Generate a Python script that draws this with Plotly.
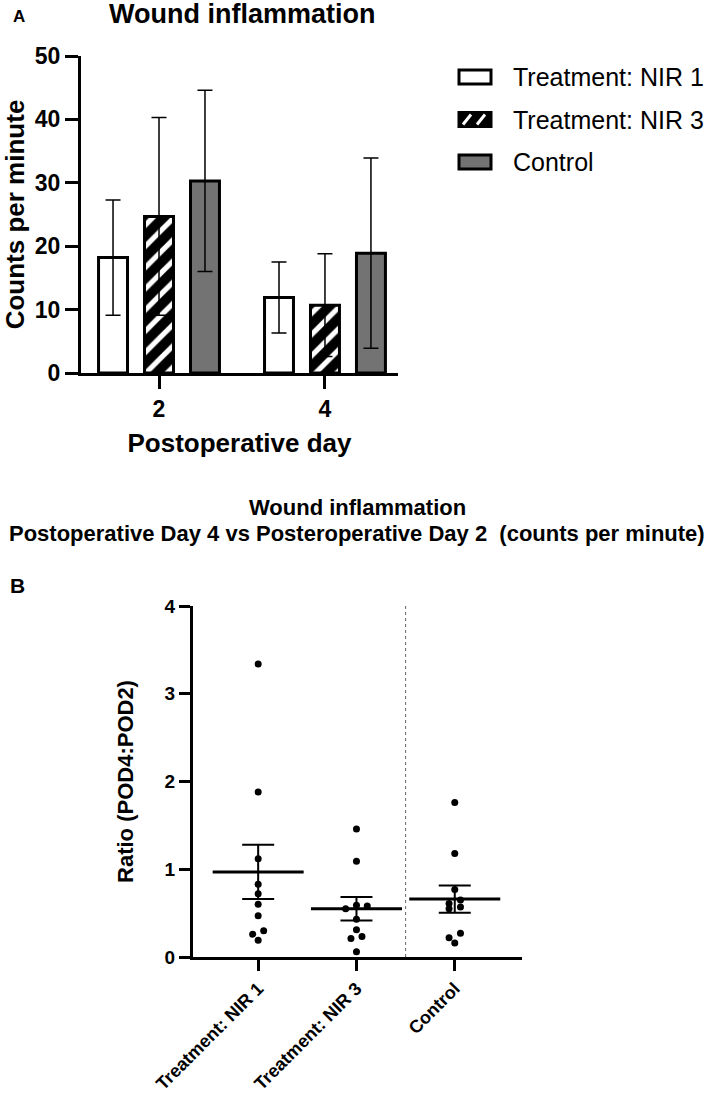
import plotly.graph_objects as go

W, H = 709, 1099

# ---------------- Panel A data ----------------
days = ["2", "4"]
nir1_mean = [18.2, 11.9]
nir1_sd = [9.1, 5.6]
nir3_mean = [24.7, 10.7]
nir3_sd = [15.6, 8.1]
ctrl_mean = [30.3, 18.9]
ctrl_sd = [14.3, 15.0]
series_names = ["Treatment: NIR 1", "Treatment: NIR 3", "Control"]
a_yticks = [0, 10, 20, 30, 40, 50]

# ---------------- Panel B data ----------------
groups = ["Treatment: NIR 1", "Treatment: NIR 3", "Control"]
nir1_ratio = [3.34, 1.88, 1.12, 0.83, 0.72, 0.60, 0.47, 0.30, 0.26, 0.19]
nir1_jit = [0, 0, 0, 0, 0, 0, 0, 0.056, -0.056, 0]
nir3_ratio = [1.46, 1.09, 0.59, 0.58, 0.55, 0.43, 0.31, 0.235, 0.21, 0.06]
nir3_jit = [0, 0, 0, 0.11, -0.11, 0, 0, 0.056, -0.056, 0]
ctrl_ratio = [1.76, 1.18, 0.77, 0.65, 0.61, 0.57, 0.55, 0.27, 0.22, 0.16]
ctrl_jit = [0, 0, 0, 0.058, -0.058, 0.058, -0.058, 0.058, -0.058, 0]
ratio_mean = [0.97, 0.55, 0.66]
ratio_sem = [0.31, 0.135, 0.155]
b_yticks = [0, 1, 2, 3, 4]

FONT = "Liberation Sans, Arial, sans-serif"
GRAY = "#737373"


def px(x):
    return x / W


def py(y):
    return 1 - y / H


fig = go.Figure()

err_style = dict(type="data", thickness=1.5, width=7.5, color="black")

fig.add_trace(go.Bar(
    x=days, y=nir1_mean, name=series_names[0],
    error_y=dict(array=nir1_sd, **err_style),
    marker=dict(color="white", line=dict(color="black", width=3)),
    xaxis="x", yaxis="y", showlegend=False))
fig.add_trace(go.Bar(
    x=days, y=nir3_mean, name=series_names[1],
    error_y=dict(array=nir3_sd, **err_style),
    marker=dict(color="black", line=dict(color="black", width=3),
                pattern=dict(shape="/", fgcolor="white", bgcolor="black",
                             size=15, solidity=0.35)),
    xaxis="x", yaxis="y", showlegend=False))
fig.add_trace(go.Bar(
    x=days, y=ctrl_mean, name=series_names[2],
    error_y=dict(array=ctrl_sd, **err_style),
    marker=dict(color=GRAY, line=dict(color="black", width=3)),
    xaxis="x", yaxis="y", showlegend=False))

# Panel B scatter points
for i, (vals, jit) in enumerate([(nir1_ratio, nir1_jit), (nir3_ratio, nir3_jit), (ctrl_ratio, ctrl_jit)]):
    fig.add_trace(go.Scatter(
        x=[i + j for j in jit], y=vals, mode="markers",
        marker=dict(color="black", size=7),
        xaxis="x2", yaxis="y2", showlegend=False, name=groups[i]))

# Mean +/- SEM
fig.add_trace(go.Scatter(
    x=[0, 1, 2], y=ratio_mean, mode="markers",
    marker=dict(symbol="line-ew", size=65, color="black",
                line=dict(color="black", width=3)),
    error_y=dict(type="data", array=ratio_sem, thickness=2, width=16, color="black"),
    xaxis="x2", yaxis="y2", showlegend=False, name="Mean ± SEM"))

axis_common = dict(showline=True, linewidth=3, linecolor="black", ticks="outside",
                   tickwidth=3, tickcolor="black", showgrid=False, zeroline=False,
                   mirror=False, automargin=False)

fig.update_layout(
    template="none",
    width=W, height=H, margin=dict(l=0, r=0, t=0, b=0, pad=0),
    paper_bgcolor="white", plot_bgcolor="white",
    font=dict(family=FONT, color="black"),
    showlegend=False,
    barmode="group", bargap=0.169, bargroupgap=0.37,
    xaxis=dict(type="category", domain=[px(81), px(398)], anchor="y", range=[-0.47, 1.44],
               ticklen=13, tickfont=dict(size=23, weight="bold"),
               title=dict(text="Postoperative day", font=dict(size=26, weight="bold"), standoff=14),
               **axis_common),
    yaxis=dict(domain=[py(373), py(56)], anchor="x", range=[0, 50],
               tickvals=a_yticks, ticklen=13, tickfont=dict(size=23, weight="bold"),
               title=dict(text="Counts per minute", font=dict(size=26, weight="bold"), standoff=21),
               **axis_common),
    xaxis2=dict(domain=[px(193), px(522)], anchor="y2", range=[-0.663, 2.684],
                tickvals=[0, 1, 2], ticktext=groups, tickangle=-45, ticklen=11,
                tickfont=dict(size=18, weight="bold"), **axis_common),
    yaxis2=dict(domain=[py(957), py(606)], anchor="x2", range=[0, 4],
                tickvals=b_yticks, ticklen=11, tickfont=dict(size=19, weight="bold"),
                title=dict(text="Ratio (POD4:POD2)", font=dict(size=22, weight="bold"), standoff=25),
                **axis_common),
)

# separator
fig.add_shape(type="line", xref="x2", yref="y2", x0=1.5, x1=1.5, y0=0, y1=4,
              line=dict(color="#666666", width=1, dash="dot"))

# Legend (drawn manually to match wide swatches)
leg_rows = [77, 119.5, 162]
fills = ["white", "black", GRAY]
for yc, fc, name in zip(leg_rows, fills, series_names):
    fig.add_shape(type="rect", xref="paper", yref="paper",
                  x0=px(459), x1=px(491), y0=py(yc - 7), y1=py(yc + 7),
                  fillcolor=fc, line=dict(color="black", width=3))
    fig.add_annotation(text=name, xref="paper", yref="paper", x=px(511), y=py(yc),
                       xanchor="left", yanchor="middle", showarrow=False,
                       font=dict(size=25, family=FONT, color="black"))
# hatch stripes on the NIR 3 swatch
for x0 in [463, 477]:
    fig.add_shape(type="line", xref="paper", yref="paper",
                  x0=px(x0), y0=py(leg_rows[1] + 5), x1=px(x0 + 8), y1=py(leg_rows[1] - 5),
                  line=dict(color="white", width=3))

ann_bold = dict(xref="paper", yref="paper", showarrow=False)
fig.add_annotation(text="A", x=px(11), y=py(17), xanchor="left", yanchor="middle",
                   font=dict(size=17, weight="bold"), **ann_bold)
fig.add_annotation(text="Wound inflammation", x=px(242), y=py(14), xanchor="center", yanchor="middle",
                   font=dict(size=27, weight="bold"), **ann_bold)
fig.add_annotation(text="Wound inflammation", x=px(357), y=py(507), xanchor="center", yanchor="middle",
                   font=dict(size=22, weight="bold"), **ann_bold)
fig.add_annotation(text="Postoperative Day 4 vs Posteroperative Day 2  (counts per minute)",
                   x=px(357), y=py(533), xanchor="center", yanchor="middle",
                   font=dict(size=22, weight="bold"), **ann_bold)
fig.add_annotation(text="B", x=px(8), y=py(585), xanchor="left", yanchor="middle",
                   font=dict(size=21, weight="bold"), **ann_bold)

fig.write_html("out.html", config={"displayModeBar": False},
               post_script="document.body.style.margin='0px';")
